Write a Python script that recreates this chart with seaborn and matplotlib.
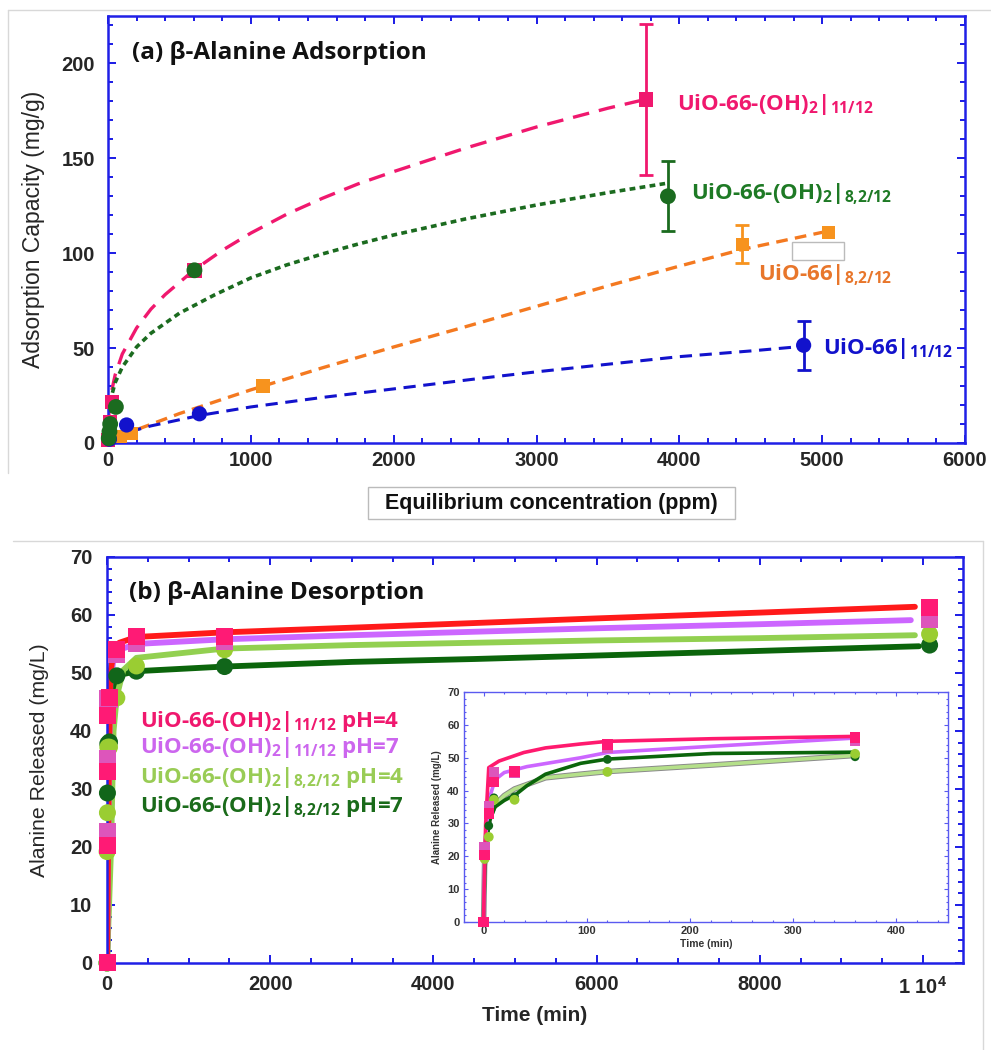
import numpy as np
import pandas as pd
import seaborn as sns
import matplotlib.pyplot as plt
from matplotlib.ticker import MultipleLocator
from matplotlib.lines import Line2D
from matplotlib.patches import Rectangle

sns.set_theme(style='ticks')
plt.rcParams['font.family'] = ['Liberation Sans', 'DejaVu Sans']
plt.rcParams['mathtext.fontset'] = 'custom'
plt.rcParams['mathtext.rm'] = 'Open Sans'
plt.rcParams['mathtext.bf'] = 'Open Sans:bold'
plt.rcParams['mathtext.it'] = 'Open Sans:italic'

# ---------------- (a) adsorption: measured points (ppm, mg/g)
oh11_c = [0, 15, 28, 605, 3765]
oh11_q = [1.5, 11, 21.5, 91, 181]
oh11_err = [0, 0, 0, 0, 40]
oh82_c = [5, 10, 15, 55, 605, 3920]
oh82_q = [2.5, 6, 10, 19, 91, 130]
oh82_err = [0, 0, 0, 0, 0, 18.5]
u82_c = [90, 165, 1085, 4440, 5045]
u82_q = [3.3, 5.2, 30, 104.6, 111]
u82_err = [0, 0, 0, 10, 0]
u11_c = [10, 130, 640, 4870]
u11_q = [2, 9.5, 15.4, 51.5]
u11_err = [0, 0, 0, 12.8]

# (a) fitted isotherm curves
oh11_fit_c = [0, 2, 5, 10, 20, 50, 100, 200, 300, 400, 600, 800, 1000, 1250, 1500,
              1750, 2000, 2500, 3000, 3500, 3760]
oh11_fit_q = [0, 9, 14, 19, 25.4, 35.9, 46.9, 60.6, 70.5, 78.2, 91, 101.5, 110.6, 120.5,
              128.9, 136.5, 143, 155.3, 166.5, 176.4, 181]
oh82_fit_c = [0, 2, 10, 20, 50, 100, 200, 300, 500, 750, 1000, 1250, 1500, 1750, 2000,
              2500, 3000, 3500, 3900]
oh82_fit_q = [0, 10.9, 18.6, 23.4, 31.8, 40, 50.6, 57.8, 68.4, 78.2, 87, 93.8, 99.6,
              104.8, 109.6, 118, 125.4, 131.9, 136.7]
u82_fit_c = [90, 200, 500, 1000, 1500, 2000, 2500, 3000, 3500, 4000, 4440, 5000]
u82_fit_q = [3.5, 7, 15.5, 28, 39.6, 50.6, 61.2, 72, 82.8, 93.2, 102, 111]
u11_fit_c = [20, 130, 300, 640, 1000, 1500, 2000, 2600, 3000, 3500, 4000, 4500, 4800]
u11_fit_q = [2, 5.5, 9, 14.5, 19, 24, 28.5, 34, 37.5, 41.5, 45.5, 48.5, 50.5]

# ---------------- (b) desorption: measured points (min, mg/L)
p4_t = [0, 1, 5, 10, 30, 120, 360, 1440, 10080]
p4_v = [0, 20.3, 33.0, 42.7, 45.8, 54.0, 56.2, 56.3, 61.2]
p7_t = [0, 1, 5, 10, 30, 120, 360, 1440, 10080]
p7_v = [0, 22.7, 35.3, 45.6, 45.5, 53.1, 55.0, 55.5, 59.2]
g4_t = [0, 1, 5, 10, 30, 120, 360, 1440, 10080]
g4_v = [0, 19.2, 25.9, 37.2, 37.2, 45.7, 51.2, 54.0, 56.7]
g7_t = [0, 5, 10, 30, 120, 360, 1440, 10080]
g7_v = [0, 29.3, 37.8, 38.1, 49.5, 50.3, 51.1, 54.8]

# (b) kinetic fit curves on the full time axis
p4_fit_t = [0, 20, 40, 80, 150, 360, 1440, 3000, 4500, 6000, 8000, 9900]
p4_fit_v = [0, 30, 50, 53.5, 55.2, 56.2, 57.0, 57.8, 58.6, 59.4, 60.4, 61.4]
p7_fit_t = [0, 20, 40, 80, 150, 360, 1440, 3000, 4500, 6000, 8000, 9850]
p7_fit_v = [0, 28, 48, 52.5, 54.0, 55.0, 55.8, 56.5, 57.1, 57.7, 58.4, 59.1]
g4_fit_t = [0, 50, 80, 120, 200, 360, 1440, 3000, 4500, 6000, 8000, 9900]
g4_fit_v = [0, 20, 40, 46, 50.5, 52.6, 54.2, 54.8, 55.2, 55.6, 56.0, 56.5]
g7_fit_t = [0, 40, 80, 120, 200, 360, 1440, 3000, 4500, 6000, 8000, 9950]
g7_fit_v = [0, 25, 46, 49.0, 49.8, 50.3, 51.1, 51.9, 52.4, 53.0, 53.8, 54.6]

# (b) inset: fit curves over the first 6 h
p4_in_t = [0, 0.5, 2, 5, 15, 39, 60, 94, 120, 222, 360]
p4_in_v = [0, 10, 30, 47, 49, 51.6, 53, 54.2, 55, 55.8, 56.5]
p7_in_t = [0, 1, 3, 6, 11, 20, 42, 94, 120, 222, 360]
p7_in_v = [0, 20, 30, 38, 43.3, 45.5, 47.3, 50, 51.6, 53.5, 56.0]
g4_in_t = [0, 1, 3, 6, 11, 20, 30, 60, 94, 120, 222, 360]
g4_in_v = [0, 18, 27, 32, 35.7, 38.5, 40.5, 43.9, 45, 45.8, 47.8, 50.7]
g7_in_t = [0, 1, 3, 6, 11, 20, 32, 42, 60, 94, 120, 222, 360]
g7_in_v = [0, 14, 25, 31, 35, 37, 39, 41.5, 45, 48.3, 49.6, 51.3, 51.7]

bottom_xticks = [0, 2000, 4000, 6000, 8000, 10000]
bottom_xticklabels = ['0', '2000', '4000', '6000', '8000', r'1 10$^\mathbf{4}$']

PINK = '#F0186E'
DGREEN = '#1B6B1F'
ORANGE = '#F7931E'
BLUE = '#1212CC'
SPINE = '#2020E6'


def style_axes(ax, lw=1.8, maj=6, mnr=3.5, size=14.5, color=SPINE, pad=3):
    for s in ax.spines.values():
        s.set_color(color)
        s.set_linewidth(lw)
        s.set_visible(True)
    ax.tick_params(which='both', direction='in', top=True, right=True,
                   color=color, width=lw * 0.8)
    ax.tick_params(which='major', length=maj, labelsize=size, pad=pad)
    ax.tick_params(which='minor', length=mnr)
    for lab in ax.get_xticklabels() + ax.get_yticklabels():
        lab.set_fontweight('bold')


def fit_line(ax, x, y, color, ls, lw, z=2):
    sns.lineplot(x=x, y=y, ax=ax, color=color, linestyle=ls, linewidth=lw,
                 estimator=None, sort=False, zorder=z)


def points(ax, x, y, color, marker, s, z=4):
    sns.scatterplot(x=x, y=y, ax=ax, color=color, marker=marker, s=s,
                    edgecolor='none', linewidth=0, clip_on=False, zorder=z)


def err(ax, x, y, e, color):
    x, y, e = np.array(x), np.array(y), np.array(e)
    m = e > 0
    ax.errorbar(x[m], y[m], yerr=e[m], fmt='none', ecolor=color, elinewidth=2,
                capsize=5, capthick=2, zorder=3)


fig = plt.figure(figsize=(9.91, 10.5), dpi=100)

# ================= panel (a)
ax1 = fig.add_axes([0.1090, 0.5781, 0.8648, 0.4067])
fit_line(ax1, oh11_fit_c, oh11_fit_q, PINK, (0, (5, 3)), 2.4)
fit_line(ax1, oh82_fit_c, oh82_fit_q, DGREEN, (0, (1.6, 1.2)), 2.6)
fit_line(ax1, u82_fit_c, u82_fit_q, '#F47920', (0, (3.5, 2.2)), 2.4)
fit_line(ax1, u11_fit_c, u11_fit_q, BLUE, (0, (4, 2.5)), 2.2)
err(ax1, oh11_c, oh11_q, oh11_err, PINK)
err(ax1, oh82_c, oh82_q, oh82_err, DGREEN)
err(ax1, u82_c, u82_q, u82_err, ORANGE)
err(ax1, u11_c, u11_q, u11_err, BLUE)
points(ax1, oh11_c, oh11_q, PINK, 's', 110)
points(ax1, u82_c, u82_q, ORANGE, 's', 90)
points(ax1, u11_c, u11_q, BLUE, 'o', 120)
points(ax1, oh82_c, oh82_q, DGREEN, 'o', 130, z=5)

ax1.set_xlim(0, 6000)
ax1.set_ylim(0, 225)
ax1.xaxis.set_major_locator(MultipleLocator(1000))
ax1.xaxis.set_minor_locator(MultipleLocator(200))
ax1.yaxis.set_major_locator(MultipleLocator(50))
ax1.yaxis.set_minor_locator(MultipleLocator(10))
ax1.set_xlabel('')
ax1.set_ylabel('Adsorption Capacity (mg/g)', fontsize=16.5, labelpad=12)
style_axes(ax1)
ax1.tick_params(axis='x', which='major', pad=6)
ax1.tick_params(axis='y', which='major', pad=9.5)

lbl = dict(fontfamily='Open Sans', fontweight='bold', fontsize=16, va='baseline', ha='left')
ttl = dict(fontfamily='Open Sans', fontweight='bold', fontsize=17.5, va='baseline',
           color='#111111')
ax1.text(0.028, 0.899, '(a) β-Alanine Adsorption', transform=ax1.transAxes, **ttl)
ax1.text(3981, 175.3, r'UiO-66-(OH)$_\mathbf{2}$|$_\mathbf{11/12}$', color=PINK, **lbl)
ax1.text(4080, 128.3, r'UiO-66-(OH)$_\mathbf{2}$|$_\mathbf{8{,}2/12}$', color='#1E7A25', **lbl)
ax1.text(4553, 85.8, r'UiO-66|$_\mathbf{8{,}2/12}$', color='#E8762B', **lbl)
ax1.text(5004, 46.8, r'UiO-66|$_\mathbf{11/12}$', color=BLUE, **lbl)

# boxed x label of panel (a)
fig.text(551 / 991, 1 - 503 / 1050, 'Equilibrium concentration (ppm)', ha='center', va='center',
         fontsize=15.5, fontweight='bold', color='#111111')
fig.patches.append(Rectangle((368 / 991, 1 - 519 / 1050), 367 / 991, 32 / 1050,
                             transform=fig.transFigure, facecolor='none',
                             edgecolor='#BBBBBB', linewidth=1))
fig.patches.append(Rectangle((792 / 991, 1 - 260 / 1050), 52 / 991, 18 / 1050,
                             transform=fig.transFigure, facecolor='white',
                             edgecolor='#BBBBBB', linewidth=1, zorder=10))

# ================= panel (b)
ax2 = fig.add_axes([0.1080, 0.0829, 0.8638, 0.3867])
fit_line(ax2, g7_fit_t, g7_fit_v, '#0B650B', '-', 4.2)
fit_line(ax2, g4_fit_t, g4_fit_v, '#92D050', '-', 4.2)
fit_line(ax2, p7_fit_t, p7_fit_v, '#CC66FF', '-', 4.2)
fit_line(ax2, p4_fit_t, p4_fit_v, '#FF1A1A', '-', 4.2)
points(ax2, g7_t, g7_v, '#11661A', 'o', 150)
points(ax2, g4_t, g4_v, '#9ACD32', 'o', 150)
points(ax2, p7_t, p7_v, '#DD55BB', 's', 150)
points(ax2, p4_t, p4_v, '#FF1A75', 's', 150)

ax2.set_xlim(0, 10490)
ax2.set_ylim(0, 70)
ax2.set_xticks(bottom_xticks)
ax2.set_xticklabels(bottom_xticklabels)
ax2.xaxis.set_minor_locator(MultipleLocator(500))
ax2.yaxis.set_major_locator(MultipleLocator(10))
ax2.yaxis.set_minor_locator(MultipleLocator(2))
ax2.set_xlabel('Time (min)', fontsize=15, fontweight='bold', labelpad=6)
ax2.set_ylabel('Alanine Released (mg/L)', fontsize=15.3, labelpad=15)
style_axes(ax2)
ax2.tick_params(axis='x', which='major', pad=9)
ax2.tick_params(axis='y', which='major', pad=10.5)

ax2.text(0.0257, 0.8966, '(b) β-Alanine Desorption', transform=ax2.transAxes, **ttl)
leg = [(r'UiO-66-(OH)$_\mathbf{2}$|$_\mathbf{11/12}$ pH=4', PINK, 0.581),
       (r'UiO-66-(OH)$_\mathbf{2}$|$_\mathbf{11/12}$ pH=7', '#CC66EE', 0.517),
       (r'UiO-66-(OH)$_\mathbf{2}$|$_\mathbf{8{,}2/12}$ pH=4', '#99CC55', 0.441),
       (r'UiO-66-(OH)$_\mathbf{2}$|$_\mathbf{8{,}2/12}$ pH=7', '#1A6B1A', 0.372)]
for txt, col, yy in leg:
    ax2.text(0.0386, yy, txt, transform=ax2.transAxes, color=col, **lbl)

# ---- inset
axi = fig.add_axes([0.4682, 0.1219, 0.4884, 0.219])
fit_line(axi, g4_in_t, g4_in_v, '#8A8A8A', '-', 4.0)
fit_line(axi, g4_in_t, g4_in_v, '#B5E08A', '-', 2.6)
fit_line(axi, g7_in_t, g7_in_v, '#0B650B', '-', 2.6)
fit_line(axi, p7_in_t, p7_in_v, '#CC66FF', '-', 2.6)
fit_line(axi, p4_in_t, p4_in_v, '#FF1A6E', '-', 2.6)
points(axi, g7_t[:6], g7_v[:6], '#11661A', 'o', 40)
points(axi, g4_t[:7], g4_v[:7], '#9ACD32', 'o', 50)
points(axi, p7_t[:7], p7_v[:7], '#DD55BB', 's', 55)
points(axi, p4_t[:7], p4_v[:7], '#FF1A75', 's', 55)
axi.set_xlim(-19, 450)
axi.set_ylim(0, 70)
axi.xaxis.set_major_locator(MultipleLocator(100))
axi.xaxis.set_minor_locator(MultipleLocator(20))
axi.yaxis.set_major_locator(MultipleLocator(10))
axi.yaxis.set_minor_locator(MultipleLocator(2))
axi.set_xlabel('Time (min)', fontsize=7.5, fontweight='bold', color='#333333', labelpad=2)
axi.set_ylabel('Alanine Released (mg/L)', fontsize=7, fontweight='bold', color='#333333', labelpad=4)
style_axes(axi, lw=1.0, maj=3, mnr=1.5, size=8, color='#5A5AF0')
axi.tick_params(which='major', labelcolor='#333333')

# screenshot frame lines
for xs, ys in [((8, 991), (10, 10)), ((8, 8), (10, 473)),
               ((13, 983), (541, 541)), ((983, 983), (541, 1050))]:
    fig.add_artist(Line2D([x / 991 for x in xs], [1 - y / 1050 for y in ys],
                          color='#D8D8D8', linewidth=1))

fig.savefig('out.png', dpi=100)
